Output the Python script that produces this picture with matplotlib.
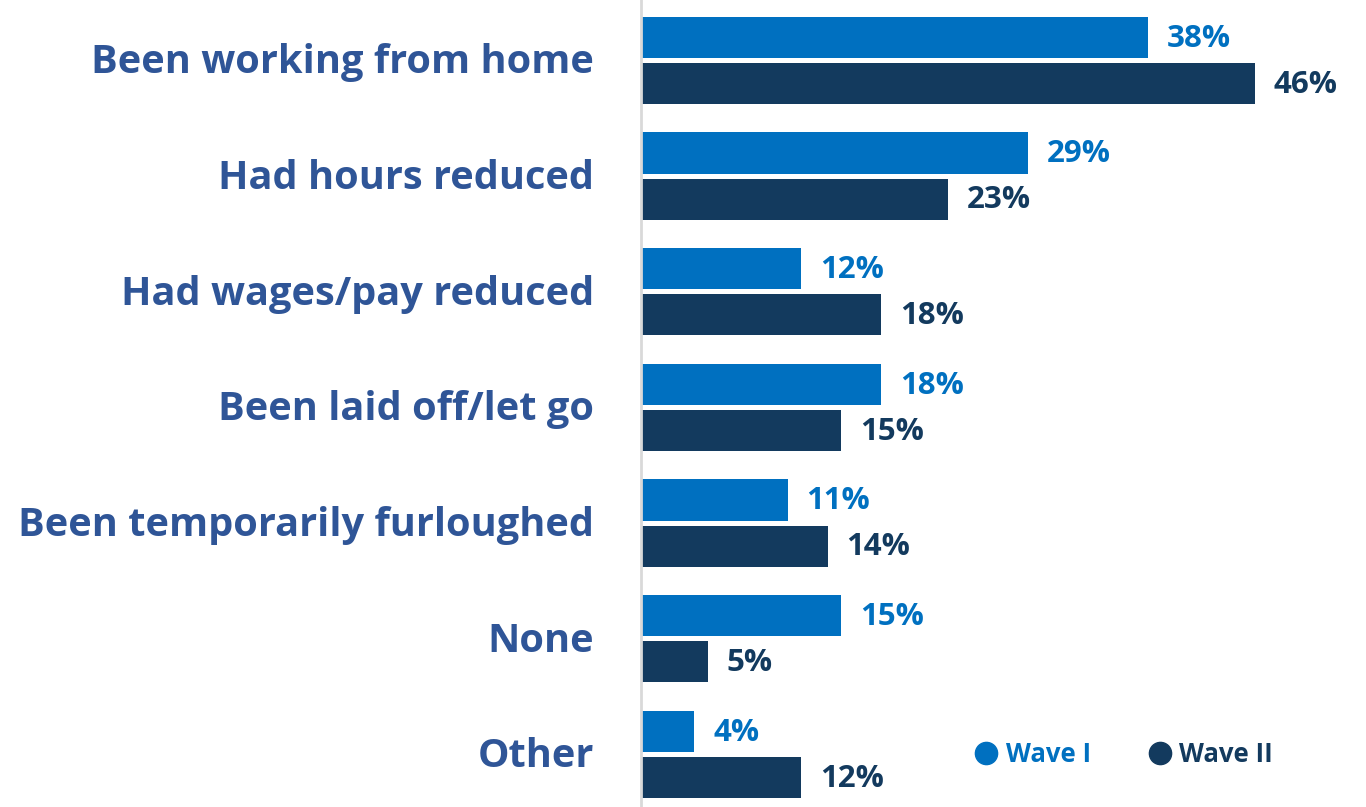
import numpy as np
import matplotlib.pyplot as plt
from matplotlib.lines import Line2D

categories = ["Been working from home", "Had hours reduced", "Had wages/pay reduced",
              "Been laid off/let go", "Been temporarily furloughed", "None", "Other"]
wave1 = [38, 29, 12, 18, 11, 15, 4]
wave2 = [46, 23, 18, 15, 14, 5, 12]
series_names = ["Wave I", "Wave II"]

c1 = "#0070C0"
c2 = "#133A5E"
label_col = "#2F5597"

plt.rcParams['font.family'] = ['Open Sans', 'DejaVu Sans']

fig = plt.figure(figsize=(13.66, 8.07), dpi=100)
ax = fig.add_axes([641 / 1366, 0, 1 - 641 / 1366, 1])

y = np.arange(len(categories))
h = 0.355
ax.barh(y - 0.2, wave1, height=h, color=c1)
ax.barh(y + 0.2, wave2, height=h, color=c2)

for i in range(len(categories)):
    ax.text(wave1[i] + 1.4, y[i] - 0.19, f"{wave1[i]}%", color=c1, fontsize=22.5,
            fontweight='bold', va='center', ha='left')
    ax.text(wave2[i] + 1.4, y[i] + 0.21, f"{wave2[i]}%", color=c2, fontsize=22.5,
            fontweight='bold', va='center', ha='left')
    ax.text(-3.5, y[i] + 0.02, categories[i], color=label_col, fontsize=28.6,
            fontweight='bold', va='center', ha='right')

ax.set_xlim(0, 54.3)
ax.set_ylim(6.454, -0.523)
ax.set_xticks([])
ax.set_yticks([])
for s in ['top', 'right', 'bottom']:
    ax.spines[s].set_visible(False)
ax.spines['left'].set_color('#D9D9D9')
ax.spines['left'].set_linewidth(2)

handles = [Line2D([], [], marker='o', linestyle='', markersize=16, color=c1),
           Line2D([], [], marker='o', linestyle='', markersize=16, color=c2)]
leg = ax.legend(handles, series_names, ncol=2, frameon=False, loc='center left',
                bbox_to_anchor=(962 / 1366, 1 - 754 / 807), bbox_transform=fig.transFigure,
                prop={'weight': 'bold', 'size': 18.5}, handletextpad=0.3, columnspacing=2.25,
                handlelength=0.9, borderpad=0)
for t, c in zip(leg.get_texts(), [c1, c2]):
    t.set_color(c)

fig.savefig("out.png", dpi=100)
